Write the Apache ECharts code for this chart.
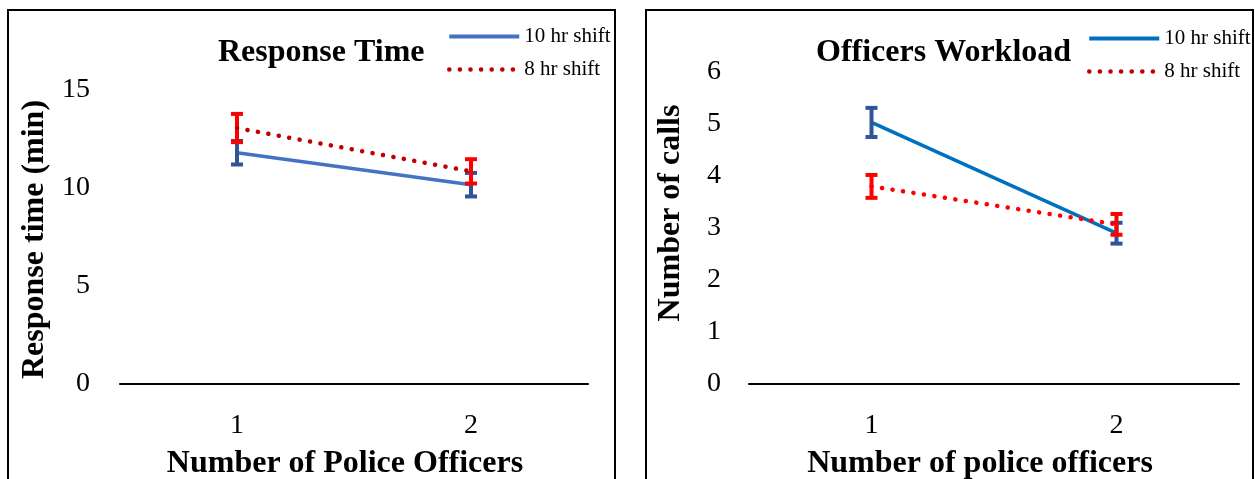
<!DOCTYPE html>
<html>
<head>
<meta charset="utf-8">
<script src="https://cdn.jsdelivr.net/npm/echarts@6/dist/echarts.min.js"></script>
<style>
  html, body { margin: 0; padding: 0; background: #ffffff; }
  body { width: 1255px; height: 479px; position: relative; overflow: hidden; }
  .panel { position: absolute; box-sizing: border-box; border: 2px solid #000; background: #fff; }
  #left { left: 7px; top: 9px; width: 609px; height: 490px; }
  #right { left: 645px; top: 9px; width: 609px; height: 490px; }
</style>
</head>
<body>
<div id="left" class="panel"></div>
<div id="right" class="panel"></div>
<script>
// Shared category axis: number of officers per unit
const categories = ['1', '2'];

// Response time (min): means and error half-widths
const responseTen = [11.8, 10.17];
const responseTenErr = [0.6, 0.6];
const responseEight = [13.06, 10.85];
const responseEightErr = [0.72, 0.62];

// Officers workload (number of calls): means and error half-widths
const workloadTen = [5.03, 2.9];
const workloadTenErr = [0.28, 0.2];
const workloadEight = [3.8, 3.07];
const workloadEightErr = [0.22, 0.2];

const responseTicks = { min: 0, max: 15, interval: 5 };
const workloadTicks = { min: 0, max: 6, interval: 1 };

const FONT = 'Liberation Serif';
const DOTS = [0.1, 10.5];

// Vertical error bar with flat caps, drawn through the axis scales
function errorBars(name, color, values, errs) {
  return {
    name: name,
    type: 'custom',
    data: values.map((v, i) => [i, v - errs[i], v + errs[i]]),
    z: 3,
    renderItem: function (params, api) {
      const i = api.value(0);
      const lo = api.coord([i, api.value(1)]);
      const hi = api.coord([i, api.value(2)]);
      const hw = 6;
      const st = { stroke: color, lineWidth: 4 };
      return {
        type: 'group',
        children: [
          { type: 'line', shape: { x1: lo[0], y1: lo[1], x2: hi[0], y2: hi[1] }, style: st },
          { type: 'line', shape: { x1: lo[0] - hw, y1: lo[1], x2: lo[0] + hw, y2: lo[1] }, style: st },
          { type: 'line', shape: { x1: hi[0] - hw, y1: hi[1], x2: hi[0] + hw, y2: hi[1] }, style: st }
        ]
      };
    }
  };
}

function buildOption(cfg) {
  return {
    backgroundColor: '#ffffff',
    animation: false,
    title: {
      text: cfg.title,
      left: cfg.titleLeft,
      top: 26,
      padding: 0,
      textStyle: { fontFamily: FONT, fontWeight: 'bold', fontSize: 32, color: '#000' }
    },
    legend: {
      orient: 'vertical',
      left: cfg.legendLeft,
      top: cfg.legendTop,
      padding: 0,
      itemWidth: 70,
      itemHeight: 14,
      itemGap: 12,
      itemStyle: { opacity: 0 },
      data: [
        { name: '10 hr shift', lineStyle: { color: cfg.tenColor, width: 4, type: 'solid' } },
        { name: '8 hr shift', lineStyle: { color: '#C00000', width: 4.5, type: DOTS, cap: 'round' } }
      ],
      textStyle: { fontFamily: FONT, fontSize: 21, color: '#000' }
    },
    grid: {
      left: cfg.gridLeft,
      top: cfg.gridTop,
      width: cfg.gridWidth,
      height: cfg.gridHeight
    },
    xAxis: {
      type: 'category',
      data: categories,
      boundaryGap: true,
      name: cfg.xName,
      nameLocation: 'middle',
      nameGap: 64,
      nameTextStyle: {
        fontFamily: FONT, fontWeight: 'bold', fontSize: 32, color: '#000',
        padding: cfg.xNamePadding
      },
      axisLine: { lineStyle: { color: '#000', width: 2 } },
      axisTick: { show: false },
      axisLabel: { fontFamily: FONT, fontSize: 28, color: '#000', margin: 28 }
    },
    yAxis: {
      type: 'value',
      min: cfg.ticks.min,
      max: cfg.ticks.max,
      interval: cfg.ticks.interval,
      name: cfg.yName,
      nameLocation: 'middle',
      nameRotate: 90,
      nameGap: cfg.yNameGap,
      nameTextStyle: {
        fontFamily: FONT, fontWeight: 'bold', fontSize: 32, color: '#000',
        padding: cfg.yNamePadding
      },
      axisLine: { show: false },
      axisTick: { show: false },
      splitLine: { show: false },
      axisLabel: { fontFamily: FONT, fontSize: 28, color: '#000', margin: cfg.yLabelMargin }
    },
    series: [
      {
        name: '10 hr shift',
        type: 'line',
        data: cfg.ten,
        showSymbol: false,
        symbol: 'none',
        z: 2,
        itemStyle: { color: cfg.tenColor },
        lineStyle: { color: cfg.tenColor, width: 3.5 }
      },
      {
        name: '8 hr shift',
        type: 'line',
        data: cfg.eight,
        showSymbol: false,
        symbol: 'none',
        z: 4,
        itemStyle: { color: cfg.eightColor },
        lineStyle: { color: cfg.eightColor, width: 4.5, type: DOTS, cap: 'round' }
      },
      errorBars('10 hr error', '#2F5597', cfg.ten, cfg.tenErr),
      errorBars('8 hr error', '#FF0000', cfg.eight, cfg.eightErr)
    ]
  };
}

const leftChart = echarts.init(document.getElementById('left'), null, { renderer: 'canvas' });
leftChart.setOption(buildOption({
  title: 'Response Time',
  titleLeft: 209,
  legendLeft: 438,
  legendTop: 15,
  gridLeft: 111,
  gridTop: 79,
  gridWidth: 468,
  gridHeight: 294,
  ticks: responseTicks,
  yLabelMargin: 30,
  xName: 'Number of Police Officers',
  xNamePadding: [0, 18, 0, 0],
  yName: 'Response time (min)',
  yNameGap: 68,
  yNamePadding: [0, 5, 0, 0],
  ten: responseTen,
  tenErr: responseTenErr,
  eight: responseEight,
  eightErr: responseEightErr,
  tenColor: '#4472C4',
  eightColor: '#C00000'
}));

const rightChart = echarts.init(document.getElementById('right'), null, { renderer: 'canvas' });
rightChart.setOption(buildOption({
  title: 'Officers Workload',
  titleLeft: 169,
  legendLeft: 440,
  legendTop: 17,
  gridLeft: 98,
  gridTop: 61,
  gridWidth: 494,
  gridHeight: 312,
  ticks: workloadTicks,
  yLabelMargin: 28,
  xName: 'Number of police officers',
  xNamePadding: [0, 28, 0, 0],
  yName: 'Number of calls',
  yNameGap: 62,
  yNamePadding: [0, 0, 0, 30],
  ten: workloadTen,
  tenErr: workloadTenErr,
  eight: workloadEight,
  eightErr: workloadEightErr,
  tenColor: '#0070C0',
  eightColor: '#FF0000'
}));
</script>
</body>
</html>
